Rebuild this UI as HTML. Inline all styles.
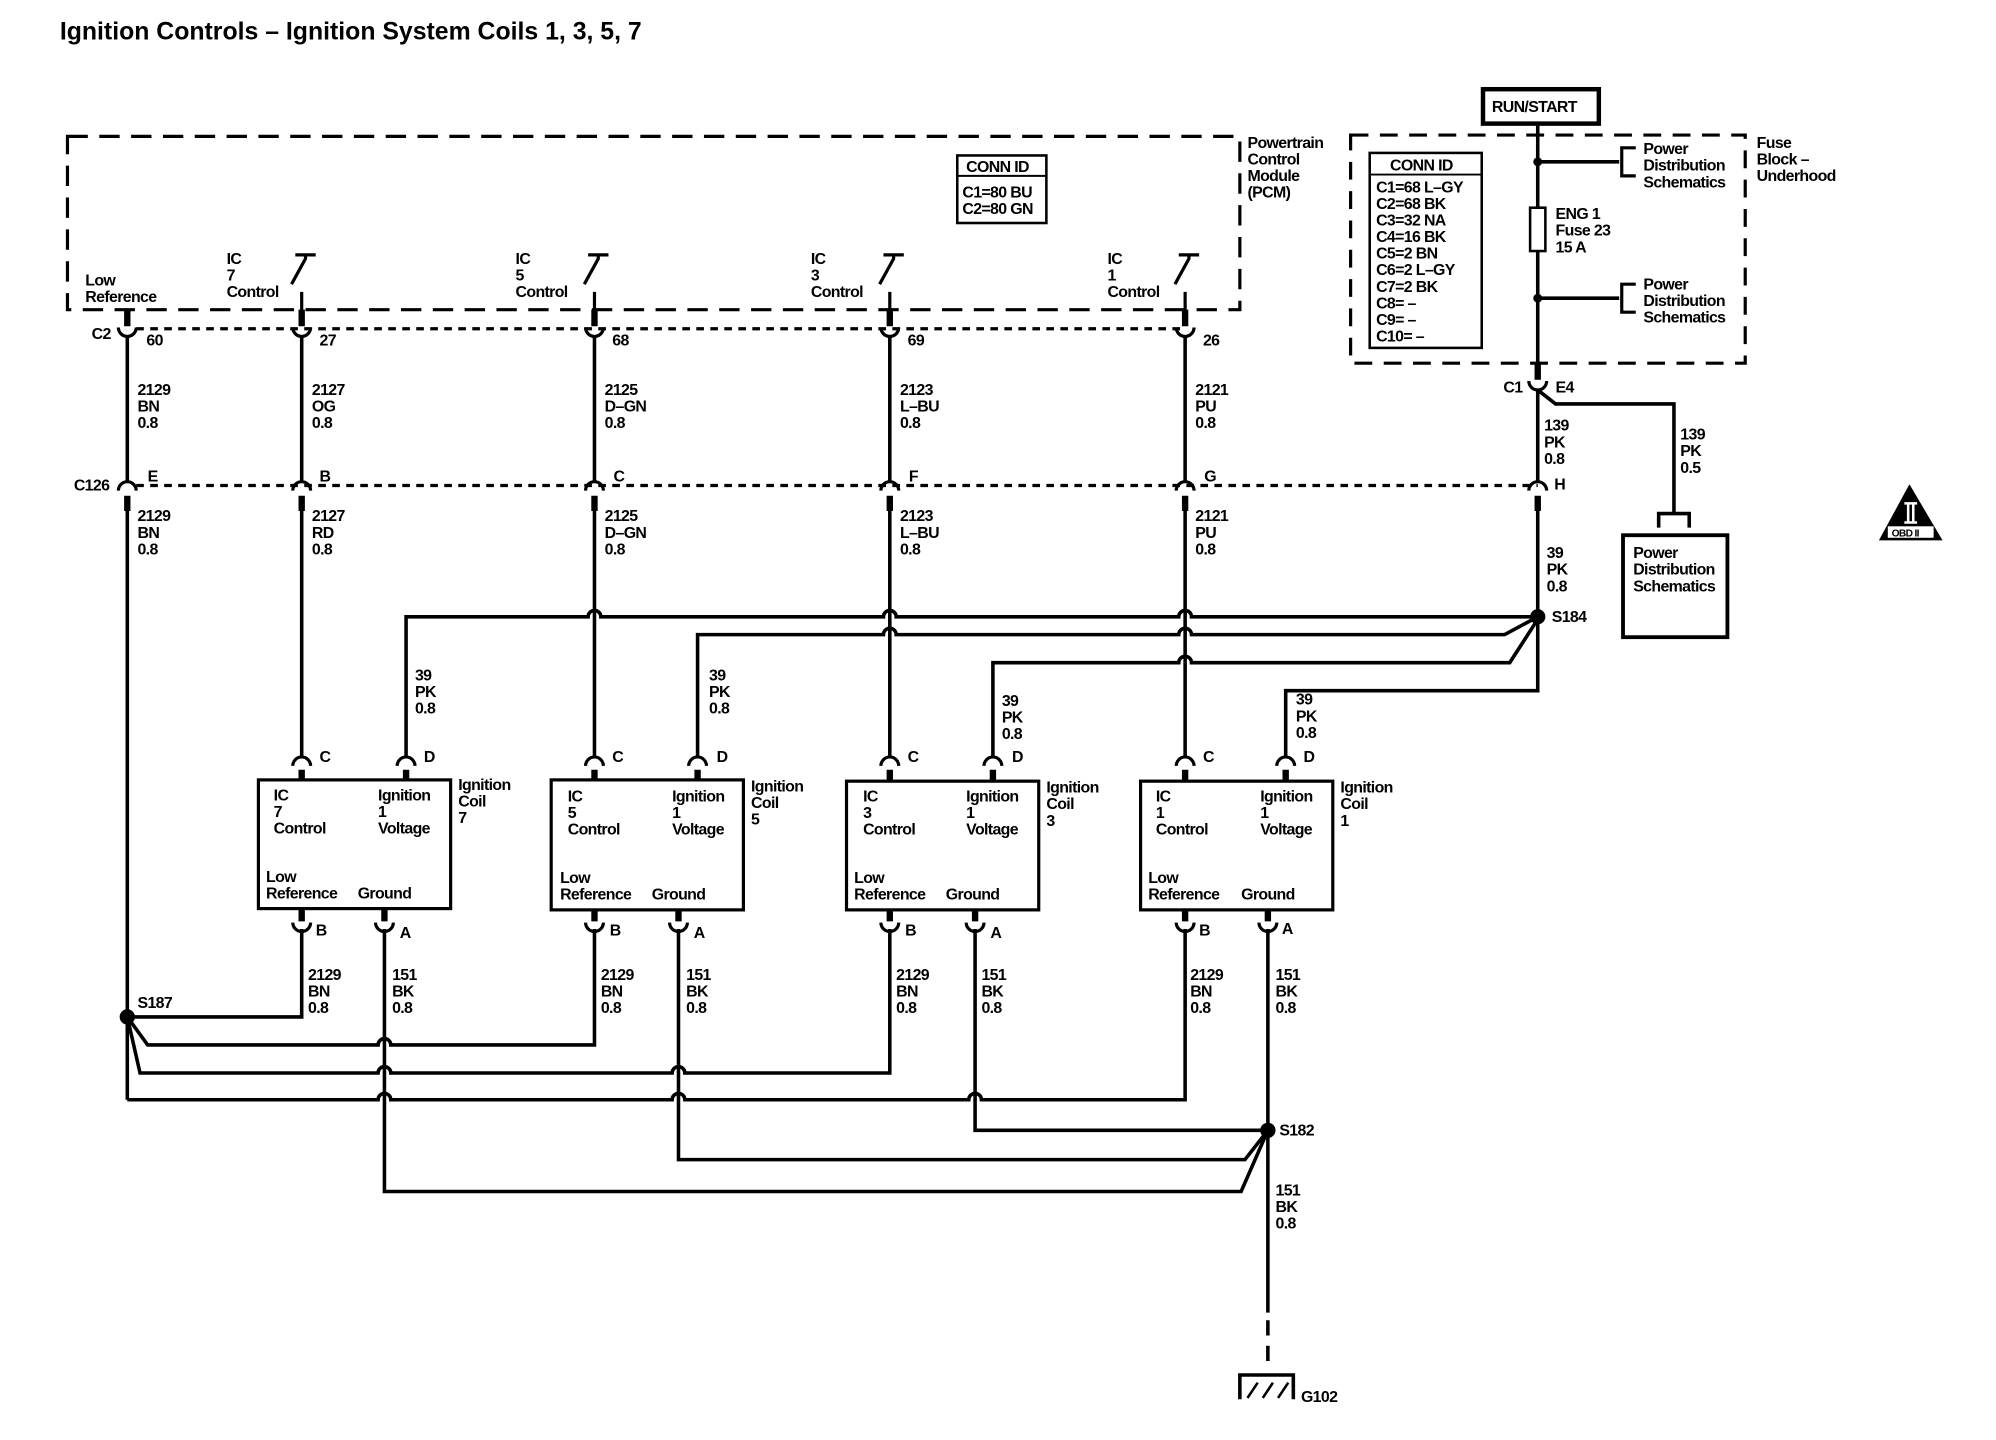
<!DOCTYPE html>
<html><head><meta charset="utf-8"><style>
html,body{margin:0;padding:0;background:#fff;}
svg{display:block;}
text{font-family:"Liberation Sans",sans-serif;font-size:12.5px;fill:#000;letter-spacing:-0.5px;font-weight:bold;}
.b{font-weight:bold;}
</style></head><body>
<svg width="1996" height="1440" viewBox="0 0 1568 1130" preserveAspectRatio="none" xmlns="http://www.w3.org/2000/svg">
<rect width="1568" height="1130" fill="#fff"/>
<text x="47" y="31" class="b" style="font-size:19.5px;letter-spacing:0px">Ignition Controls – Ignition System Coils 1, 3, 5, 7</text>

<g fill="none" stroke="#000">
<path d="M53,107 H974 V243 H53 Z" stroke-width="2.5" stroke-dasharray="16,9"/>
<path d="M1061,106 H1371 V285 H1061 Z" stroke-width="2.5" stroke-dasharray="14,9"/>
<path d="M107,258 H931" stroke-width="2.5" stroke-dasharray="6,5"/>
<path d="M107,381 H1208" stroke-width="2.5" stroke-dasharray="6,5"/>

<rect x="752" y="122" width="70" height="53" stroke-width="2"/>
<line x1="752" y1="138" x2="822" y2="138" stroke-width="1.5"/>
<rect x="1076" y="120" width="88" height="153" stroke-width="2"/>
<line x1="1076" y1="137" x2="1164" y2="137" stroke-width="1.5"/>
<rect x="1165" y="70" width="91" height="27" stroke-width="3.5"/>

<g stroke-width="2.5">
<path d="M237,229 V245 M229,223 L240,203 V199 M232,200 H248"/>
<path d="M467,229 V245 M459,223 L470,203 V199 M462,200 H478"/>
<path d="M699,229 V245 M691,223 L702,203 V199 M694,200 H710"/>
<path d="M931,229 V245 M923,223 L934,203 V199 M926,200 H942"/>
</g>

<g stroke-width="5">
<path d="M100,243 V256 M237,243 V256 M467,243 V256 M699,243 V256 M931,243 V256"/>
<path d="M100,389 V401 M237,389 V401 M467,389 V401 M699,389 V401 M931,389 V401 M1208,389 V401"/>
<path d="M1208,285 V298"/>
</g>
<g stroke-width="2.5">
<path d="M93,257 A7,7 0 0 0 107,257 M230,257 A7,7 0 0 0 244,257 M460,257 A7,7 0 0 0 474,257 M692,257 A7,7 0 0 0 706,257 M924,257 A7,7 0 0 0 938,257"/>
<path d="M93,385 A7,7 0 0 1 107,385 M230,385 A7,7 0 0 1 244,385 M460,385 A7,7 0 0 1 474,385 M692,385 A7,7 0 0 1 706,385 M924,385 A7,7 0 0 1 938,385 M1201,385 A7,7 0 0 1 1215,385"/>
<path d="M1201,299 A7,7 0 0 0 1215,299"/>
</g>

<g stroke-width="2.8">
<path d="M100,264 V378 M237,264 V378 M467,264 V378 M699,264 V378 M931,264 V378"/>
<path d="M1208,97 V163 M1208,197 V285"/>
<path d="M1208,127 H1272 M1208,234 H1272"/>
<path d="M1208,306 V378 M1208,306 L1222,317 H1315 V403"/>
<path d="M1303,414 V403 H1327 V414"/>
<path d="M100,401 V863 M237,401 V593 M467,401 V593 M699,401 V593 M931,401 V593"/>
<path d="M1208,401 V542 H1010 V593"/>
<path d="M319,593 V484 H462 A5,5 0 0 1 472,484 H694 A5,5 0 0 1 704,484 H926 A5,5 0 0 1 936,484 H1208"/>
<path d="M548,593 V498 H694 A5,5 0 0 1 704,498 H926 A5,5 0 0 1 936,498 H1182 L1208,484"/>
<path d="M780,593 V520 H926 A5,5 0 0 1 936,520 H1186 L1208,486"/>
<path d="M237,729 V798 H100"/>
<path d="M467,729 V820 H307 A5,5 0 0 0 297,820 H116 L100,798"/>
<path d="M699,729 V842 H538 A5,5 0 0 0 528,842 H307 A5,5 0 0 0 297,842 H110 L100,798"/>
<path d="M931,729 V863 H771 A5,5 0 0 0 761,863 H538 A5,5 0 0 0 528,863 H307 A5,5 0 0 0 297,863 H100"/>
<path d="M302,729 V935 H975 L996,887"/>
<path d="M533,729 V910 H978 L996,887"/>
<path d="M766,729 V887 H996"/>
<path d="M996,729 V1030"/>
<path d="M996,1036 V1070" stroke-dasharray="12,8"/>
<path d="M974,1098 V1079 H1016 V1098"/>
<path d="M980,1097 L988,1085 M992,1097 L1000,1085 M1004,1097 L1012,1085" stroke-width="2"/>
</g>
<g stroke-width="2.5">
<path d="M1285,116 H1274 V138 H1285"/>
<path d="M1285,223 H1274 V245 H1285"/>
</g>
<rect x="1202" y="163" width="12" height="34" fill="#fff" stroke-width="2"/>
<rect x="1275" y="420" width="82" height="80" stroke-width="3"/>

<g stroke-width="2.5">
<rect x="203" y="612" width="151" height="101"/>
<rect x="433" y="612" width="151" height="102"/>
<rect x="665" y="613" width="151" height="101"/>
<rect x="896" y="613" width="151" height="101"/>
</g>
<g stroke-width="2.5">
<path d="M230,601 A7,7 0 0 1 244,601 M312,601 A7,7 0 0 1 326,601 M460,601 A7,7 0 0 1 474,601 M541,601 A7,7 0 0 1 555,601 M692,601 A7,7 0 0 1 706,601 M773,601 A7,7 0 0 1 787,601 M924,601 A7,7 0 0 1 938,601 M1003,601 A7,7 0 0 1 1017,601"/>
<path d="M230,724 A7,7 0 0 0 244,724 M295,724 A7,7 0 0 0 309,724 M460,724 A7,7 0 0 0 474,724 M526,724 A7,7 0 0 0 540,724 M692,724 A7,7 0 0 0 706,724 M759,724 A7,7 0 0 0 773,724 M924,724 A7,7 0 0 0 938,724 M989,724 A7,7 0 0 0 1003,724"/>
</g>
<g stroke-width="5">
<path d="M237,604 V612 M319,604 V612 M467,604 V612 M548,604 V612 M699,604 V613 M780,604 V613 M931,604 V613 M1010,604 V613"/>
<path d="M237,713 V723 M302,713 V723 M467,714 V723 M533,714 V723 M699,714 V723 M766,714 V723 M931,714 V723 M996,714 V723"/>
</g>
</g>
<g fill="#000" stroke="none">
<circle cx="100" cy="798" r="6"/>
<circle cx="1208" cy="484" r="6"/>
<circle cx="996" cy="887" r="6"/>
<circle cx="1208" cy="127" r="3.5"/>
<circle cx="1208" cy="234" r="3.5"/>
<path d="M1500,380 L1476,424 H1526 Z"/>
</g>
<rect x="1483" y="413" width="36" height="9" fill="#fff"/>
<text x="1486" y="421" style="font-size:8px" class="b">OBD II</text>
<path d="M1496,395 H1506 M1496,410 H1506 M1499,395 V410 M1503,395 V410" stroke="#fff" stroke-width="2"/>

<g>
<text x="980" y="116">Powertrain</text><text x="980" y="129">Control</text><text x="980" y="142">Module</text><text x="980" y="155">(PCM)</text>
<text x="759" y="135">CONN ID</text><text x="756" y="155">C1=80 BU</text><text x="756" y="168">C2=80 GN</text>
<text x="67" y="224">Low</text><text x="67" y="237">Reference</text>
<text x="178" y="207">IC</text><text x="178" y="220">7</text><text x="178" y="233">Control</text>
<text x="405" y="207">IC</text><text x="405" y="220">5</text><text x="405" y="233">Control</text>
<text x="637" y="207">IC</text><text x="637" y="220">3</text><text x="637" y="233">Control</text>
<text x="870" y="207">IC</text><text x="870" y="220">1</text><text x="870" y="233">Control</text>
<text x="72" y="266">C2</text><text x="115" y="271">60</text><text x="251" y="271">27</text><text x="481" y="271">68</text><text x="713" y="271">69</text><text x="945" y="271">26</text>
<text x="108" y="310">2129</text><text x="108" y="323">BN</text><text x="108" y="336">0.8</text>
<text x="245" y="310">2127</text><text x="245" y="323">OG</text><text x="245" y="336">0.8</text>
<text x="475" y="310">2125</text><text x="475" y="323">D–GN</text><text x="475" y="336">0.8</text>
<text x="707" y="310">2123</text><text x="707" y="323">L–BU</text><text x="707" y="336">0.8</text>
<text x="939" y="310">2121</text><text x="939" y="323">PU</text><text x="939" y="336">0.8</text>
<text x="58" y="385">C126</text><text x="116" y="378">E</text><text x="251" y="378">B</text><text x="482" y="378">C</text><text x="714" y="378">F</text><text x="946" y="378">G</text><text x="1221" y="384">H</text>
<text x="108" y="409">2129</text><text x="108" y="422">BN</text><text x="108" y="435">0.8</text>
<text x="245" y="409">2127</text><text x="245" y="422">RD</text><text x="245" y="435">0.8</text>
<text x="475" y="409">2125</text><text x="475" y="422">D–GN</text><text x="475" y="435">0.8</text>
<text x="707" y="409">2123</text><text x="707" y="422">L–BU</text><text x="707" y="435">0.8</text>
<text x="939" y="409">2121</text><text x="939" y="422">PU</text><text x="939" y="435">0.8</text>
<text x="1215" y="438">39</text><text x="1215" y="451">PK</text><text x="1215" y="464">0.8</text>
<text x="1219" y="488">S184</text>
<text x="326" y="534">39</text><text x="326" y="547">PK</text><text x="326" y="560">0.8</text>
<text x="557" y="534">39</text><text x="557" y="547">PK</text><text x="557" y="560">0.8</text>
<text x="787" y="554">39</text><text x="787" y="567">PK</text><text x="787" y="580">0.8</text>
<text x="1018" y="553">39</text><text x="1018" y="566">PK</text><text x="1018" y="579">0.8</text>
<text x="251" y="598">C</text><text x="333" y="598">D</text><text x="481" y="598">C</text><text x="563" y="598">D</text><text x="713" y="598">C</text><text x="795" y="598">D</text><text x="945" y="598">C</text><text x="1024" y="598">D</text>
<text x="215" y="628">IC</text><text x="215" y="641">7</text><text x="215" y="654">Control</text>
<text x="297" y="628">Ignition</text><text x="297" y="641">1</text><text x="297" y="654">Voltage</text>
<text x="209" y="692">Low</text><text x="209" y="705">Reference</text><text x="281" y="705">Ground</text>
<text x="360" y="620">Ignition</text><text x="360" y="633">Coil</text><text x="360" y="646">7</text>
<text x="446" y="629">IC</text><text x="446" y="642">5</text><text x="446" y="655">Control</text>
<text x="528" y="629">Ignition</text><text x="528" y="642">1</text><text x="528" y="655">Voltage</text>
<text x="440" y="693">Low</text><text x="440" y="706">Reference</text><text x="512" y="706">Ground</text>
<text x="590" y="621">Ignition</text><text x="590" y="634">Coil</text><text x="590" y="647">5</text>
<text x="678" y="629">IC</text><text x="678" y="642">3</text><text x="678" y="655">Control</text>
<text x="759" y="629">Ignition</text><text x="759" y="642">1</text><text x="759" y="655">Voltage</text>
<text x="671" y="693">Low</text><text x="671" y="706">Reference</text><text x="743" y="706">Ground</text>
<text x="822" y="622">Ignition</text><text x="822" y="635">Coil</text><text x="822" y="648">3</text>
<text x="908" y="629">IC</text><text x="908" y="642">1</text><text x="908" y="655">Control</text>
<text x="990" y="629">Ignition</text><text x="990" y="642">1</text><text x="990" y="655">Voltage</text>
<text x="902" y="693">Low</text><text x="902" y="706">Reference</text><text x="975" y="706">Ground</text>
<text x="1053" y="622">Ignition</text><text x="1053" y="635">Coil</text><text x="1053" y="648">1</text>
<text x="248" y="734">B</text><text x="314" y="736">A</text><text x="479" y="734">B</text><text x="545" y="736">A</text><text x="711" y="734">B</text><text x="778" y="736">A</text><text x="942" y="734">B</text><text x="1007" y="733">A</text>
<text x="242" y="769">2129</text><text x="242" y="782">BN</text><text x="242" y="795">0.8</text>
<text x="308" y="769">151</text><text x="308" y="782">BK</text><text x="308" y="795">0.8</text>
<text x="472" y="769">2129</text><text x="472" y="782">BN</text><text x="472" y="795">0.8</text>
<text x="539" y="769">151</text><text x="539" y="782">BK</text><text x="539" y="795">0.8</text>
<text x="704" y="769">2129</text><text x="704" y="782">BN</text><text x="704" y="795">0.8</text>
<text x="771" y="769">151</text><text x="771" y="782">BK</text><text x="771" y="795">0.8</text>
<text x="935" y="769">2129</text><text x="935" y="782">BN</text><text x="935" y="795">0.8</text>
<text x="1002" y="769">151</text><text x="1002" y="782">BK</text><text x="1002" y="795">0.8</text>
<text x="108" y="791">S187</text>
<text x="1005" y="891">S182</text>
<text x="1002" y="938">151</text><text x="1002" y="951">BK</text><text x="1002" y="964">0.8</text>
<text x="1022" y="1100">G102</text>
<text x="1172" y="88">RUN/START</text>
<text x="1092" y="134">CONN ID</text>
<text x="1081" y="151">C1=68 L–GY</text><text x="1081" y="164">C2=68 BK</text><text x="1081" y="177">C3=32 NA</text><text x="1081" y="190">C4=16 BK</text><text x="1081" y="203">C5=2 BN</text><text x="1081" y="216">C6=2 L–GY</text><text x="1081" y="229">C7=2 BK</text><text x="1081" y="242">C8= –</text><text x="1081" y="255">C9= –</text><text x="1081" y="268">C10= –</text>
<text x="1291" y="121">Power</text><text x="1291" y="134">Distribution</text><text x="1291" y="147">Schematics</text>
<text x="1291" y="227">Power</text><text x="1291" y="240">Distribution</text><text x="1291" y="253">Schematics</text>
<text x="1380" y="116">Fuse</text><text x="1380" y="129">Block –</text><text x="1380" y="142">Underhood</text>
<text x="1222" y="172">ENG 1</text><text x="1222" y="185">Fuse 23</text><text x="1222" y="198">15 A</text>
<text x="1181" y="308">C1</text><text x="1222" y="308">E4</text>
<text x="1213" y="338">139</text><text x="1213" y="351">PK</text><text x="1213" y="364">0.8</text>
<text x="1320" y="345">139</text><text x="1320" y="358">PK</text><text x="1320" y="371">0.5</text>
<text x="1283" y="438">Power</text><text x="1283" y="451">Distribution</text><text x="1283" y="464">Schematics</text>
</g>
</svg>
</body></html>
